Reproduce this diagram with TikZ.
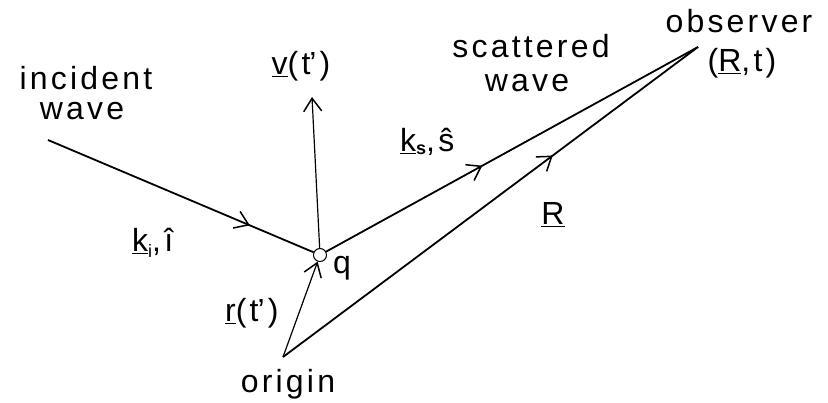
\documentclass[tikz,border=0pt]{standalone}
\usepackage{fontspec}
\setmainfont{Liberation Sans}[LetterSpace=10]
\usetikzlibrary{arrows.meta,decorations.markings}
\newcommand{\subsm}[2]{\raisebox{#1}{\fontsize{18}{18}\selectfont #2}}
\newcommand{\tprime}{t\kern-1pt’}
\begin{document}
\begin{tikzpicture}[x=1pt,y=-1pt,
  lbl/.style={inner sep=0pt, font=\fontsize{32}{38}\selectfont},
  ray/.style={line width=1.8pt},
  thinray/.style={line width=1.2pt},
  barb/.tip={Straight Barb[length=13pt,width=18pt,line width=1.5pt]},
  midarrow/.style={postaction={decorate},decoration={markings,mark=at position #1 with {\arrow{barb}}}},
]
\useasboundingbox (0,0) rectangle (828,403);
\coordinate (src) at (48,140);
\coordinate (org) at (283,357);
\coordinate (obs) at (698,47);
\coordinate (vtip) at (312,97);
\node[draw, circle, fill=white, minimum size=13pt, inner sep=0pt, line width=1pt] (q) at (320,255) {};

\draw[ray, midarrow=0.76] (src) -- (q);
\draw[ray, midarrow=0.42] (q) -- (obs);
\draw[ray, midarrow=0.65] (org) -- (obs);
\draw[thinray, -barb] (q) -- (vtip);
\draw[thinray, -barb] (org) -- (q);

\node[lbl, anchor=base] (inc1) at (86,90) {incident};
\node[lbl, anchor=base] (inc2) at (82,120) {wave};
\node[lbl, anchor=base] (sca1) at (531,58) {scattered};
\node[lbl, anchor=base] (sca2) at (527,92) {wave};
\node[lbl, anchor=base] (obs1) at (739,33) {observer};
\node[lbl, anchor=base] (obs2) at (742,72) {(\underline{R},t)};
\node[lbl, anchor=base] (vlab) at (301,75) {\underline{v}(\tprime)};
\node[lbl, anchor=base west] (kslab) at (400,152) {\underline{k}\subsm{-3pt}{\bfseries s},ŝ};
\node[lbl, anchor=base west] (kilab) at (132,252) {\underline{k}\subsm{-6pt}{i},î};
\node[lbl, anchor=base] (Rlab) at (553,225) {\underline{R}};
\node[lbl, anchor=base] (qlab) at (342,274) {q};
\node[lbl, anchor=base west] (rlab) at (225,322) {\underline{r}(\tprime)};
\node[lbl, anchor=base] (orglab) at (288,393) {origin};
\end{tikzpicture}
\end{document}
